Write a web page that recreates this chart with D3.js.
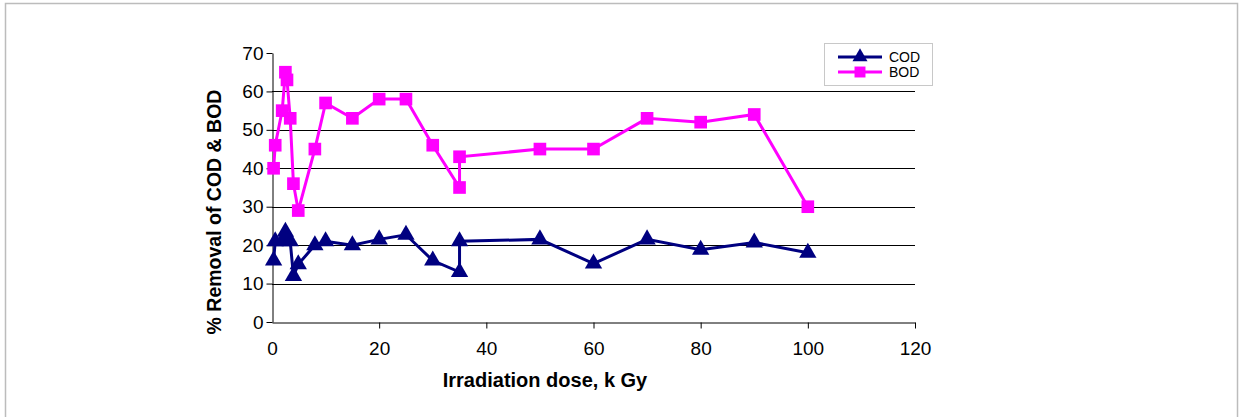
<!DOCTYPE html>
<html lang="en">
<head>
  <meta charset="UTF-8">
  <title>% Removal of COD & BOD vs irradiation dose</title>
  <script src="https://d3js.org/d3.v7.min.js"></script>
  <style>
    body { margin: 0; background: #fff; font-family: 'Liberation Sans', Arial, sans-serif; }
    svg text { fill: #000; }
  </style>
</head>
<body>
<svg id="chart" width="1240" height="417"></svg>
<script>
  // dose values (k Gy)
  const codDose = [0.3, 0.6, 1.9, 2.5, 2.8, 3.4, 4, 4.9, 8, 10, 15, 20, 25, 30, 35, 35, 50, 60, 70, 80, 90, 100];
  const codVals = [16, 21, 21, 23.5, 22, 21, 12, 15, 20, 21, 20, 21.5, 22.7, 16, 13, 21, 21.5, 15.2, 21.5, 18.8, 20.7, 18];
  const bodDose = [0.3, 0.6, 1.9, 2.5, 2.8, 3.4, 4, 4.9, 8, 10, 15, 20, 25, 30, 35, 35, 50, 60, 70, 80, 90, 100];
  const bodVals = [40, 46, 55, 65, 63, 53, 36, 29, 45, 57, 53, 58, 58, 46, 35, 43, 45, 45, 53, 52, 54, 30];
  const xTicks = [0, 20, 40, 60, 80, 100, 120];
  const yTicks = [0, 10, 20, 30, 40, 50, 60, 70];

  const svg = d3.select("#chart");

  // outer frame
  svg.append("rect")
    .attr("x", 5.5).attr("y", 3.5)
    .attr("width", 1232).attr("height", 420)
    .attr("fill", "none").attr("stroke", "#bcbcbc").attr("stroke-width", 1.5);

  const plot = { left: 272, right: 915, top: 53, bottom: 322 };

  const x = d3.scaleLinear().domain([0, 120]).range([plot.left, plot.right]);
  const y = d3.scaleLinear().domain([0, 70]).range([plot.bottom, plot.top]);

  // gridlines
  svg.append("g")
    .selectAll("line")
    .data(yTicks.filter(d => d > 0 && d < 70))
    .join("line")
    .attr("x1", plot.left).attr("x2", plot.right)
    .attr("y1", d => Math.round(y(d)) + 0.5).attr("y2", d => Math.round(y(d)) + 0.5)
    .attr("stroke", "#000").attr("stroke-width", 1);

  // axes
  const xAxis = svg.append("g")
    .attr("transform", `translate(0,${plot.bottom + 0.5})`)
    .call(d3.axisBottom(x).tickValues(xTicks).tickSize(6).tickSizeOuter(0).tickPadding(13));
  const yAxis = svg.append("g")
    .attr("transform", `translate(${plot.left + 0.5},0)`)
    .call(d3.axisLeft(y).tickValues(yTicks).tickSize(6).tickSizeOuter(0).tickPadding(3));

  [xAxis, yAxis].forEach(g => {
    g.selectAll("path, line").attr("stroke", "#000");
    g.selectAll("text")
      .attr("font-family", "'Liberation Sans', Arial, sans-serif")
      .attr("font-size", 19).attr("fill", "#000");
  });
  xAxis.select(".tick line").remove();

  // series
  const series = [
    { name: "COD", dose: codDose, vals: codVals, color: "#000080", symbol: d3.symbolTriangle, size: 130 },
    { name: "BOD", dose: bodDose, vals: bodVals, color: "#ff00ff", symbol: d3.symbolSquare, size: 160 }
  ];

  const line = d3.line().x(d => x(d[0])).y(d => y(d[1]));

  series.forEach(s => {
    const pts = s.dose.map((d, i) => [d, s.vals[i]]);
    svg.append("path")
      .datum(pts)
      .attr("d", line)
      .attr("fill", "none")
      .attr("stroke", s.color)
      .attr("stroke-width", 3);
    svg.append("g")
      .selectAll("path")
      .data(pts)
      .join("path")
      .attr("transform", d => `translate(${x(d[0])},${y(d[1])})`)
      .attr("d", d3.symbol().type(s.symbol).size(s.size))
      .attr("fill", s.color);
  });

  // axis titles
  svg.append("text")
    .attr("x", 545).attr("y", 387)
    .attr("text-anchor", "middle")
    .attr("font-size", 20).attr("font-weight", "bold")
    .text("Irradiation dose, k Gy");

  svg.append("text")
    .attr("transform", "translate(221,212) rotate(-90)")
    .attr("text-anchor", "middle")
    .attr("font-size", 19.5).attr("font-weight", "bold")
    .text("% Removal of COD & BOD");

  // legend
  const legend = svg.append("g");
  legend.append("rect")
    .attr("x", 824.5).attr("y", 43.5).attr("width", 108).attr("height", 42)
    .attr("fill", "#fff").attr("stroke", "#c8c8c8");
  series.forEach((s, i) => {
    const ly = 57 + i * 15;
    legend.append("line")
      .attr("x1", 838).attr("x2", 882).attr("y1", ly).attr("y2", ly)
      .attr("stroke", s.color).attr("stroke-width", 3);
    legend.append("path")
      .attr("transform", `translate(860,${ly})`)
      .attr("d", d3.symbol().type(s.symbol).size(s.size * 0.75))
      .attr("fill", s.color);
    legend.append("text")
      .attr("x", 889).attr("y", ly + 5)
      .attr("font-size", 14)
      .text(s.name);
  });
</script>
</body>
</html>
